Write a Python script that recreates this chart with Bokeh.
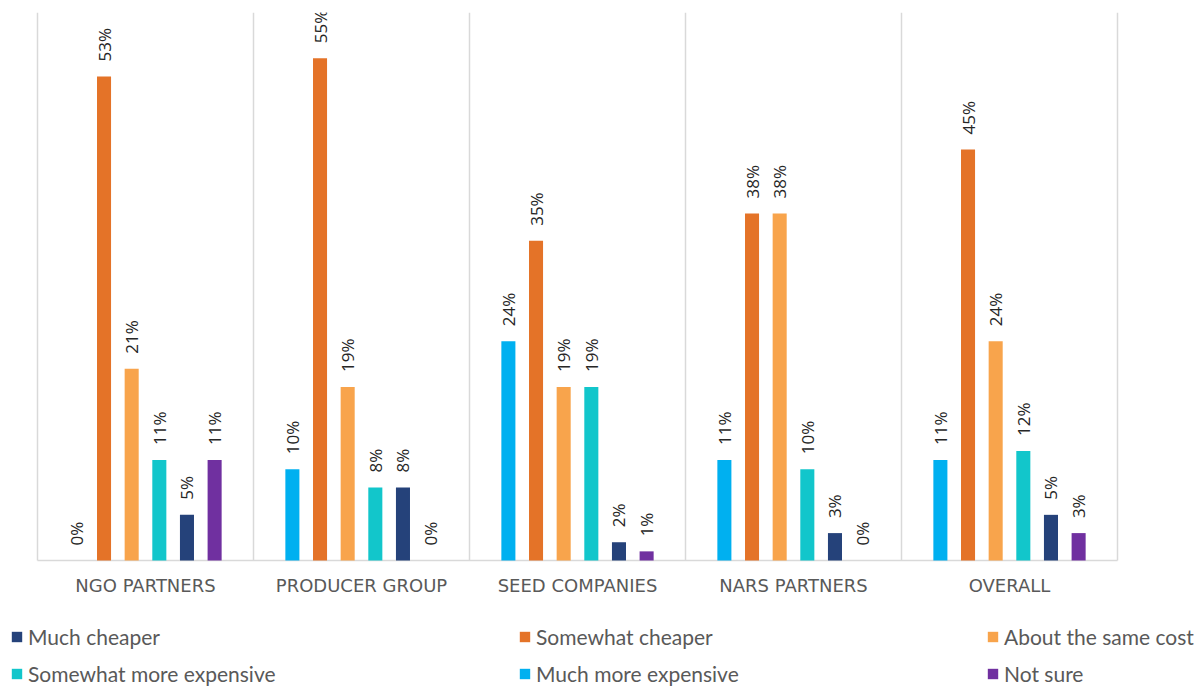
from bokeh.plotting import figure
from bokeh.models import ColumnDataSource, Range1d, Legend, LegendItem
from bokeh.transform import dodge
from bokeh.core.properties import value
from bokeh.embed import file_html
from bokeh.resources import INLINE
import math

categories = ["NGO PARTNERS", "PRODUCER GROUP", "SEED COMPANIES", "NARS PARTNERS", "OVERALL"]
much_more_expensive = [0, 10, 24, 11, 11]
somewhat_cheaper = [53, 55, 35, 38, 45]
about_same = [21, 19, 19, 38, 24]
somewhat_more_expensive = [11, 8, 19, 10, 12]
much_cheaper = [5, 8, 2, 3, 5]
not_sure = [11, 0, 1, 0, 3]

series = [
    ("Much more expensive", much_more_expensive, "#00B0F0"),
    ("Somewhat cheaper", somewhat_cheaper, "#E47328"),
    ("About the same cost", about_same, "#F8A44C"),
    ("Somewhat more expensive", somewhat_more_expensive, "#12C6CB"),
    ("Much cheaper", much_cheaper, "#25427A"),
    ("Not sure", not_sure, "#7030A0"),
]

ncat = len(categories)
centers = [i + 0.5 for i in range(ncat)]
bounds = list(range(ncat + 1))

# layout: 216 px per group, frame spans whole window width
px_per_group = 216.0
px_per_pct = 548.0 / 60.0
p = figure(width=1200, height=686, output_backend="svg", toolbar_location=None,
           x_range=Range1d(-37 / px_per_group, ncat + 83 / px_per_group),
           y_range=Range1d(-126 / px_per_pct, 60),
           min_border_left=0, min_border_right=0, min_border_top=12, min_border_bottom=0)
p.outline_line_color = None
p.axis.visible = False
p.grid.visible = False

# separators and baseline
p.segment(x0=bounds, y0=[0] * len(bounds), x1=bounds, y1=[60] * len(bounds),
          line_color="#D9D9D9", line_width=1.5)
p.segment(x0=[bounds[0]], y0=[0], x1=[bounds[-1]], y1=[0], line_color="#D9D9D9", line_width=1.5)

# category labels
cat_src = ColumnDataSource(dict(x=centers, y=[0] * ncat, t=categories))
p.text(x="x", y="y", text="t", source=cat_src, y_offset=25, text_align="center",
       text_baseline="middle", text_font=value("DejaVu Sans"), text_font_size="18px",
       text_color="#595959")

n = len(series)
step = 0.128
renderers = {}
for i, (name, vals, color) in enumerate(series):
    off = (i - (n - 1) / 2) * step
    src = ColumnDataSource(dict(x=centers, v=vals, lab=[f"{v}%" for v in vals]))
    renderers[name] = p.vbar(x=dodge("x", off), top="v", width=0.065, source=src,
                             fill_color=color, line_color=None)
    p.text(x=dodge("x", off), y="v", text="lab", source=src,
           angle=math.pi / 2, text_align="left", text_baseline="middle",
           y_offset=-15, text_font=value("Open Sans"), text_font_size="17px",
           text_color="#262626")

legend_cols = [
    (["Much cheaper", "Somewhat more expensive"], 10),
    (["Somewhat cheaper", "Much more expensive"], 518),
    (["About the same cost", "Not sure"], 986),
]
for names, x in legend_cols:
    lg = Legend(items=[LegendItem(label=nm, renderers=[renderers[nm]]) for nm in names],
                location=(x, 0), orientation="vertical",
                glyph_width=13, glyph_height=13, label_height=20, spacing=12,
                label_standoff=5, padding=0, margin=0,
                border_line_color=None, background_fill_alpha=0,
                label_text_font="Lato", label_text_font_size="21px",
                label_text_color="#595959")
    p.add_layout(lg, "center")

open("out.html", "w").write(file_html(p, INLINE))
